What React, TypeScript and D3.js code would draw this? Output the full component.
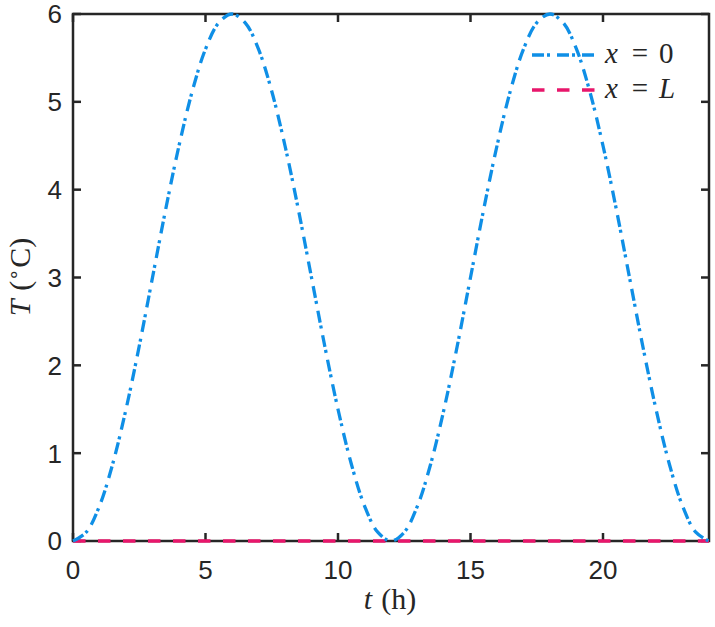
import React from "react";
import * as d3 from "d3";

const hours = [
  0, 0.5, 1, 1.5, 2, 2.5, 3, 3.5, 4, 4.5, 5, 5.5, 6, 6.5, 7, 7.5, 8, 8.5, 9, 9.5, 10, 10.5, 11, 11.5,
  12, 12.5, 13, 13.5, 14, 14.5, 15, 15.5, 16, 16.5, 17, 17.5, 18, 18.5, 19, 19.5, 20, 20.5, 21, 21.5,
  22, 22.5, 23, 23.5, 24,
];
const tempX0 = [
  0, 0.1, 0.4, 0.88, 1.5, 2.22, 3.0, 3.78, 4.5, 5.12, 5.6, 5.9, 6.0, 5.9, 5.6, 5.12, 4.5, 3.78, 3.0, 2.22,
  1.5, 0.88, 0.4, 0.1, 0, 0.1, 0.4, 0.88, 1.5, 2.22, 3.0, 3.78, 4.5, 5.12, 5.6, 5.9, 6.0, 5.9, 5.6, 5.12,
  4.5, 3.78, 3.0, 2.22, 1.5, 0.88, 0.4, 0.1, 0,
];
const tempXL = [
  0, 0, 0, 0, 0, 0, 0, 0, 0, 0, 0, 0, 0, 0, 0, 0, 0, 0, 0, 0, 0, 0, 0, 0, 0, 0, 0, 0, 0, 0, 0, 0, 0, 0, 0,
  0, 0, 0, 0, 0, 0, 0, 0, 0, 0, 0, 0, 0, 0,
];
const xTicks = [0, 5, 10, 15, 20];
const yTicks = [0, 1, 2, 3, 4, 5, 6];

const W = 715;
const H = 627;
const L = 73;
const R = 709;
const T = 14;
const B = 541;
const AX = "#262626";
const BLUE = "#0F8FE6";
const PINK = "#E8166B";
const SANS = "'Liberation Sans', Arial, Helvetica, sans-serif";
const SERIF = "'Liberation Serif', 'Times New Roman', serif";

export default function App() {
  const x = d3.scaleLinear().domain([0, 24]).range([L, R]);
  const y = d3.scaleLinear().domain([0, 6]).range([B, T]);
  const line = d3
    .line<number>()
    .x((_, i) => x(hours[i]))
    .y((d) => y(d))
    .curve(d3.curveCatmullRom.alpha(0.5));
  const tick = 8;
  return (
    <svg
      width={W}
      height={H}
      style={{ position: "absolute", left: 0, top: 0, background: "#fff" }}
    >
      <rect x={0} y={0} width={W} height={H} fill="#fff" />
      <rect x={L} y={T} width={R - L} height={B - T} fill="none" stroke={AX} strokeWidth={2.5} />
      {xTicks.map((t) => (
        <g key={"x" + t}>
          <line x1={x(t)} x2={x(t)} y1={B} y2={B - tick} stroke={AX} strokeWidth={2.5} />
          <line x1={x(t)} x2={x(t)} y1={T} y2={T + tick} stroke={AX} strokeWidth={2.5} />
          <text x={x(t)} y={579} textAnchor="middle" fontFamily={SANS} fontSize={26} fill={AX}>
            {t}
          </text>
        </g>
      ))}
      {yTicks.map((t) => (
        <g key={"y" + t}>
          <line x1={L} x2={L + tick} y1={y(t)} y2={y(t)} stroke={AX} strokeWidth={2.5} />
          <line x1={R} x2={R - tick} y1={y(t)} y2={y(t)} stroke={AX} strokeWidth={2.5} />
          <text x={62} y={y(t) + 9.4} textAnchor="end" fontFamily={SANS} fontSize={26} fill={AX}>
            {t}
          </text>
        </g>
      ))}
      <path
        d={line(tempXL) || ""}
        fill="none"
        stroke={PINK}
        strokeWidth={3.3}
        strokeDasharray="12.5,12.5"
      />
      <path
        d={line(tempX0) || ""}
        fill="none"
        stroke={BLUE}
        strokeWidth={3.3}
        strokeDasharray="12,3,3,7"
      />
      <text x={390} y={609} textAnchor="middle" fontFamily={SERIF} fontSize={30} fill={AX}>
        <tspan fontStyle="italic">t</tspan>
        <tspan dx={9}>(h)</tspan>
      </text>
      <text
        transform="translate(30,277) rotate(-90)"
        textAnchor="middle"
        fontFamily={SERIF}
        fontSize={30}
        fill={AX}
      >
        <tspan fontStyle="italic">T</tspan>
        <tspan dx={9}>(</tspan>
        <tspan fontSize={20} dy={-9}>∘</tspan>
        <tspan dy={9}>C)</tspan>
      </text>
      <line x1={532} x2={596} y1={55} y2={55} stroke={BLUE} strokeWidth={3.3} strokeDasharray="12,3,3,7" />
      <line x1={532} x2={596} y1={90} y2={90} stroke={PINK} strokeWidth={3.3} strokeDasharray="12.5,12.5" />
      <text x={605} y={63} fontFamily={SERIF} fontSize={29} fontStyle="italic" fill={AX}>x</text>
      <text x={640} y={63} textAnchor="middle" fontFamily={SERIF} fontSize={29} fill={AX}>=</text>
      <text x={659} y={63} fontFamily={SERIF} fontSize={29} fill={AX}>0</text>
      <text x={605} y={98} fontFamily={SERIF} fontSize={29} fontStyle="italic" fill={AX}>x</text>
      <text x={640} y={98} textAnchor="middle" fontFamily={SERIF} fontSize={29} fill={AX}>=</text>
      <text x={659} y={98} fontFamily={SERIF} fontSize={29} fontStyle="italic" fill={AX}>L</text>
    </svg>
  );
}
